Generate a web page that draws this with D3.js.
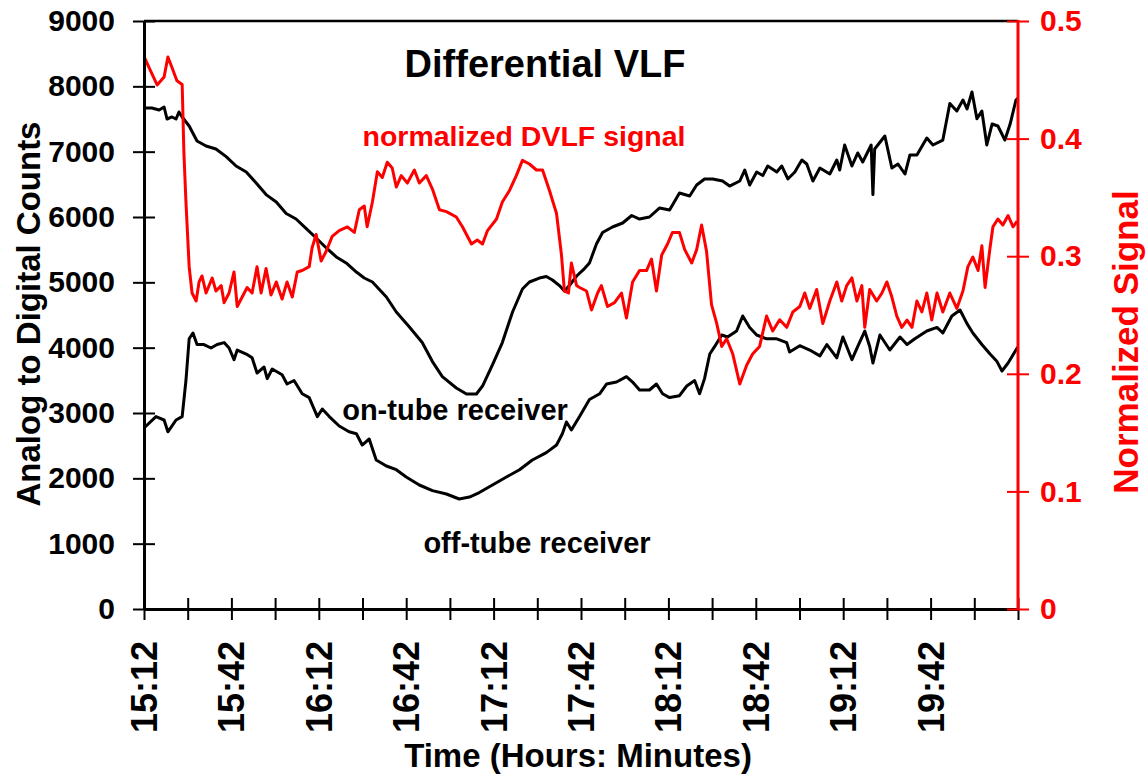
<!DOCTYPE html>
<html><head><meta charset="utf-8">
<script src="https://cdn.jsdelivr.net/npm/d3@7"></script>
<style>
body{margin:0;background:#fff}
svg text{font-family:"Liberation Sans",Arial,Helvetica,sans-serif;font-weight:bold}
</style>
</head><body>
<svg id="chart" width="1146" height="774"></svg>
<script>
// time in minutes after 15:12, value in A/D counts
const onTube = [[0,7668],[2.7,7668],[5.2,7638],[6.9,7684],[7.9,7500],[9.6,7531],[11.0,7500],[12.0,7607],[13.1,7531],[15.5,7393],[18.2,7163],[21.3,7087],[24.7,7041],[28.2,6924],[31.6,6781],[35.1,6689],[38.5,6520],[41.9,6343],[45.4,6230],[48.8,6053],[52.2,5969],[55.7,5821],[59.1,5679],[62.5,5530],[66.0,5388],[69.4,5296],[72.9,5158],[75.6,5066],[78.4,5005],[83.2,4775],[86.6,4546],[91.1,4316],[95.5,4078],[99.0,3787],[102.4,3556],[107.2,3383],[110.7,3291],[114.1,3291],[116.2,3413],[119.6,3735],[123.0,4078],[126.5,4546],[129.9,4898],[132.3,5005],[135.7,5066],[138.1,5089],[140.2,5036],[142.6,4950],[144.3,4867],[146.0,4950],[148.5,5097],[151.2,5210],[152.9,5296],[155.3,5587],[157.4,5763],[160.8,5847],[164.3,5908],[167.4,6023],[170.1,5969],[173.5,6000],[177.0,6138],[180.4,6108],[183.8,6367],[187.3,6321],[189.7,6490],[192.4,6582],[195.2,6582],[198.6,6551],[201.0,6474],[204.5,6551],[206.2,6719],[207.9,6490],[210.3,6689],[212.4,6634],[214.1,6781],[217.2,6689],[218.9,6781],[221.0,6582],[223.4,6689],[225.8,6872],[227.5,6811],[229.6,6551],[232.0,6750],[235.4,6658],[237.8,6872],[238.8,6719],[240.5,7102],[243.0,6781],[245.0,6980],[246.7,6842],[249.6,7102],[250.2,6343],[250.8,7041],[254.3,7240],[256.7,6750],[258.8,6811],[261.2,6658],[262.9,6949],[265.3,6949],[268.7,7209],[270.8,7102],[274.2,7178],[276.6,7737],[279.0,7622],[281.1,7791],[282.5,7653],[284.2,7913],[285.9,7505],[287.6,7622],[289.3,7102],[291.1,7423],[293.1,7393],[295.5,7178],[297.3,7423],[299.3,7791],[300,7820]];

const offTube = [[0,2770],[4.1,2945],[6.9,2893],[8.2,2712],[11.0,2893],[13.1,2945],[14.4,3497],[15.5,4136],[16.8,4224],[18.2,4048],[20.6,4048],[23.0,3995],[25.1,4048],[27.5,4078],[29.2,3995],[30.9,3816],[32.0,3964],[35.1,3903],[37.1,3845],[38.8,3612],[41.2,3704],[42.3,3526],[44.0,3673],[47.4,3585],[49.1,3444],[51.5,3497],[54.3,3294],[56.7,3236],[59.5,2945],[61.2,3061],[63.6,2945],[67.0,2801],[70.4,2712],[72.9,2683],[74.9,2510],[77.3,2602],[79.7,2281],[83.2,2189],[86.6,2132],[90.0,2020],[94.5,1898],[99.0,1812],[103.8,1760],[108.2,1684],[111.7,1714],[115.1,1783],[119.6,1898],[124.4,2020],[128.9,2132],[133.3,2281],[138.1,2394],[141.6,2510],[143.6,2683],[145.0,2862],[146.7,2740],[149.5,2945],[152.9,3207],[156.4,3294],[158.8,3444],[162.2,3474],[165.6,3556],[167.7,3474],[170.1,3352],[173.5,3352],[175.9,3444],[178.0,3294],[180.4,3236],[183.8,3265],[186.3,3413],[189.0,3497],[190.7,3294],[192.4,3526],[194.2,3903],[195.9,4019],[198.3,4194],[200.3,4163],[203.4,4255],[205.5,4485],[207.9,4310],[210.3,4194],[213.7,4136],[217.2,4136],[220.6,4078],[221.6,3934],[225.1,4030],[228.5,3964],[232.0,3874],[234.4,4048],[237.8,3845],[239.9,4163],[243.0,3816],[245.0,4019],[247.4,4255],[249.1,4019],[250.2,3765],[252.6,4194],[256.0,3964],[259.5,4163],[261.9,4048],[264.6,4136],[268.7,4255],[272.2,4310],[274.2,4224],[277.3,4485],[280.1,4577],[282.5,4368],[284.5,4224],[287.6,4048],[290.4,3903],[292.8,3787],[294.5,3643],[296.6,3765],[299.7,3995],[300,4000]];

// normalized DVLF signal (right axis)
const dvlf = [[0,0.470],[1.7,0.4605],[4.5,0.4456],[6.9,0.4524],[8.2,0.4694],[9.6,0.4605],[11.3,0.4492],[13.1,0.4460],[13.7,0.3879],[14.4,0.3461],[15.5,0.2911],[16.5,0.2687],[17.9,0.2619],[18.9,0.2781],[19.9,0.2832],[21.3,0.2687],[23.4,0.2815],[24.7,0.2704],[26.5,0.2750],[27.5,0.2605],[29.2,0.2687],[30.9,0.2866],[32.0,0.2572],[33.7,0.2653],[35.4,0.2734],[37.1,0.2687],[38.8,0.2911],[40.2,0.2687],[41.9,0.2895],[43.6,0.2670],[45.4,0.2781],[47.4,0.2636],[49.1,0.2781],[50.9,0.2653],[52.6,0.2866],[54.3,0.2878],[56.7,0.2911],[57.7,0.3072],[59.1,0.3185],[60.8,0.2959],[62.5,0.3040],[64.6,0.3169],[67.0,0.3218],[69.8,0.3250],[72.2,0.3202],[73.9,0.3395],[75.6,0.3427],[76.6,0.3250],[78.4,0.3461],[80.1,0.3718],[81.8,0.3669],[83.5,0.3799],[85.2,0.3750],[86.6,0.3588],[88.3,0.3685],[90.4,0.3622],[92.8,0.3733],[94.5,0.3622],[96.9,0.3685],[99.0,0.3571],[101.4,0.3395],[103.8,0.3379],[107.2,0.3333],[109.3,0.3250],[112.4,0.3104],[114.4,0.3138],[116.2,0.3104],[117.9,0.3218],[121.0,0.3316],[123.0,0.3461],[125.4,0.3556],[127.8,0.3685],[129.9,0.3815],[132.3,0.3784],[134.7,0.3733],[136.8,0.3733],[139.2,0.3556],[141.6,0.3363],[143.3,0.3010],[144.3,0.2704],[145.7,0.2687],[146.7,0.2942],[148.5,0.2750],[149.5,0.2734],[151.9,0.2704],[153.6,0.2543],[155.7,0.2687],[157.0,0.2750],[159.1,0.2572],[161.5,0.2605],[163.9,0.2687],[165.6,0.2474],[167.7,0.2781],[170.1,0.2878],[172.5,0.2878],[174.2,0.2976],[175.9,0.2704],[177.7,0.3010],[179.7,0.3104],[181.4,0.3202],[183.8,0.3202],[185.6,0.3056],[188.0,0.2942],[189.7,0.3056],[191.4,0.3265],[193.1,0.3040],[194.8,0.2588],[196.6,0.2427],[198.3,0.2233],[200.0,0.2298],[202.1,0.2168],[204.5,0.1913],[206.9,0.2075],[208.9,0.2168],[211.3,0.2233],[213.7,0.2491],[215.8,0.2364],[218.2,0.2459],[220.6,0.2395],[222.7,0.2526],[225.1,0.2572],[226.8,0.2687],[228.5,0.2556],[230.9,0.2717],[233.0,0.2427],[235.4,0.2619],[237.8,0.2781],[239.5,0.2619],[241.2,0.2750],[243.0,0.2815],[244.7,0.2619],[246.4,0.2750],[247.4,0.2395],[249.1,0.2717],[251.5,0.2619],[253.3,0.2687],[255.0,0.2781],[256.7,0.2653],[258.4,0.2491],[260.1,0.2395],[261.9,0.2457],[263.6,0.2395],[265.3,0.2619],[267.0,0.2526],[268.7,0.2687],[270.4,0.2457],[272.2,0.2687],[274.2,0.2526],[276.6,0.2687],[279.0,0.2556],[281.1,0.2704],[282.8,0.2911],[284.5,0.2993],[286.3,0.2878],[287.6,0.3088],[288.7,0.2734],[290.4,0.3072],[291.4,0.3250],[293.1,0.3316],[294.8,0.3265],[296.6,0.3346],[298.3,0.3250],[299.7,0.3299]];

const xTickMinutes = d3.range(0, 301, 15);
const xLabelMinutes = [0,30,60,90,120,150,180,210,240,270];
const xLabels = ["15:12","15:42","16:12","16:42","17:12","17:42","18:12","18:42","19:12","19:42"];
const yLeftTicks = [0,1000,2000,3000,4000,5000,6000,7000,8000,9000];
const yRightTicks = [0,0.1,0.2,0.3,0.4,0.5];

const svg = d3.select("#chart");
const L = 144, R = 1018, T = 21, B = 609;
const x = d3.scaleLinear().domain([0,300]).range([L,R]);
const yL = d3.scaleLinear().domain([0,9000]).range([B,T]);
const yR = d3.scaleLinear().domain([0,0.5]).range([B,T]);

// top frame line
svg.append("line").attr("x1",L).attr("x2",R).attr("y1",T).attr("y2",T)
  .attr("stroke","#000").attr("stroke-width",2.5);

// data lines
const lineL = d3.line().x(d=>x(d[0])).y(d=>yL(d[1]));
const lineR = d3.line().x(d=>x(d[0])).y(d=>yR(d[1]));
svg.append("path").datum(onTube).attr("d",lineL).attr("fill","none")
  .attr("stroke","#000").attr("stroke-width",3).attr("stroke-linejoin","round");
svg.append("path").datum(offTube).attr("d",lineL).attr("fill","none")
  .attr("stroke","#000").attr("stroke-width",3).attr("stroke-linejoin","round");
svg.append("path").datum(dvlf).attr("d",lineR).attr("fill","none")
  .attr("stroke","#ff0000").attr("stroke-width",3).attr("stroke-linejoin","round");

// left axis
const gL = svg.append("g").attr("transform",`translate(${L},0)`)
  .call(d3.axisLeft(yL).tickValues(yLeftTicks).tickSize(11).tickSizeOuter(0).tickPadding(18).tickFormat(d3.format("d")));
gL.select(".domain").attr("stroke","#000").attr("stroke-width",3);
gL.selectAll(".tick line").attr("x1",11).attr("stroke","#000").attr("stroke-width",2);
gL.selectAll(".tick text").attr("font-size",30).attr("fill","#000")
  .attr("font-family","Liberation Sans, Arial, sans-serif").attr("font-weight","bold");

// bottom axis
const gB = svg.append("g").attr("transform",`translate(0,${B})`)
  .call(d3.axisBottom(x).tickValues(xTickMinutes).tickSize(11).tickSizeOuter(0).tickFormat(""));
gB.select(".domain").attr("stroke","#000").attr("stroke-width",3);
gB.selectAll(".tick line").attr("y1",-11).attr("stroke","#000").attr("stroke-width",2);

svg.append("g").selectAll("text").data(xLabels).join("text")
  .attr("transform",(d,i)=>`translate(${x(xLabelMinutes[i])+13},641) rotate(-90)`)
  .attr("text-anchor","end").attr("font-size",36).attr("fill","#000").text(d=>d);

// right axis
const gR = svg.append("g").attr("transform",`translate(${R},0)`)
  .call(d3.axisRight(yR).tickValues(yRightTicks).tickSize(11).tickSizeOuter(0).tickPadding(11)
    .tickFormat(d=> d===0 ? "0" : d3.format(".1f")(d)));
gR.select(".domain").attr("stroke","#ff0000").attr("stroke-width",3)
  .attr("d",`M0,${T-1}V${B+1}`);
gR.selectAll(".tick line").attr("x1",-11).attr("stroke","#ff0000").attr("stroke-width",2);
gR.selectAll(".tick text").attr("font-size",30).attr("fill","#ff0000")
  .attr("font-family","Liberation Sans, Arial, sans-serif").attr("font-weight","bold");

// titles
svg.append("text").attr("x",545).attr("y",77).attr("text-anchor","middle")
  .attr("font-size",38).attr("fill","#000").text("Differential VLF");
svg.append("text").attr("x",524).attr("y",146).attr("text-anchor","middle")
  .attr("font-size",28.5).attr("fill","#ff0000").text("normalized DVLF signal");
svg.append("text").attr("x",455).attr("y",420).attr("text-anchor","middle")
  .attr("font-size",29).attr("fill","#000").text("on-tube receiver");
svg.append("text").attr("x",537).attr("y",553).attr("text-anchor","middle")
  .attr("font-size",29).attr("fill","#000").text("off-tube receiver");
svg.append("text").attr("x",578).attr("y",767).attr("text-anchor","middle")
  .attr("font-size",33).attr("fill","#000").text("Time (Hours: Minutes)");
svg.append("text").attr("transform","translate(40,314) rotate(-90)").attr("text-anchor","middle")
  .attr("font-size",33).attr("fill","#000").text("Analog to Digital Counts");
svg.append("text").attr("transform","translate(1138,342) rotate(-90)").attr("text-anchor","middle")
  .attr("font-size",35).attr("fill","#ff0000").text("Normalized Signal");
</script>
</body></html>
